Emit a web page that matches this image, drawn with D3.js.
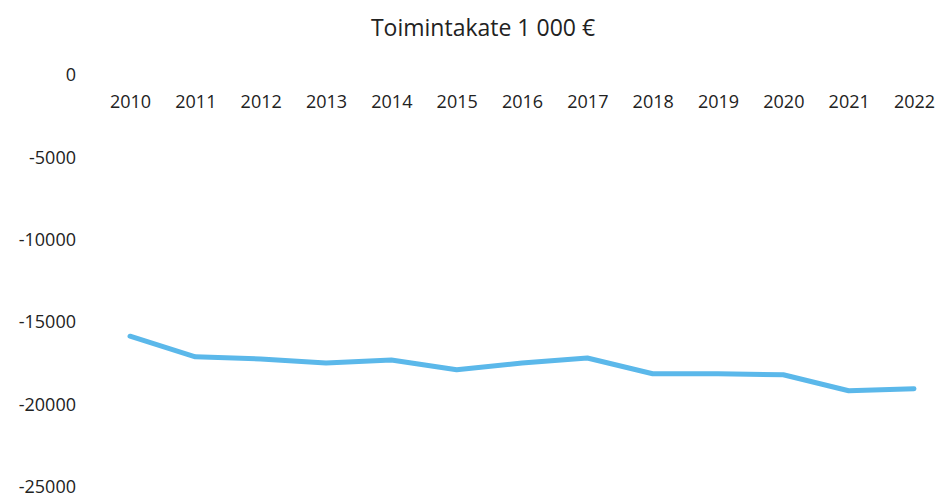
<!DOCTYPE html>
<html>
<head>
<meta charset="utf-8">
<script src="https://cdn.jsdelivr.net/npm/d3@7"></script>
<style>
  body { margin: 0; background: #fff; }
  text { font-family: "Open Sans", "Noto Sans", sans-serif; fill: #222; }
  .axis text { font-size: 18px; }
  .axis path, .axis line { display: none; }
</style>
</head>
<body>
<div id="chart"></div>
<script>
var years = ["2010", "2011", "2012", "2013", "2014", "2015", "2016", "2017", "2018", "2019", "2020", "2021", "2022"]
var toimintakate = [-15850, -17100, -17230, -17470, -17290, -17890, -17470, -17170, -18130, -18130, -18190, -19160, -19040]
var yTicks = [0, -5000, -10000, -15000, -20000, -25000]

var width = 939, height = 498
var margin = {left: 130, right: 25, top: 75, bottom: 11}

var svg = d3.select("#chart").append("svg")
    .attr("width", width)
    .attr("height", height)

var xScale = d3.scalePoint()
    .domain(years)
    .range([margin.left, width - margin.right])

var yScale = d3.scaleLinear()
    .domain([0, -25000])
    .range([margin.top, height - margin.bottom])

svg.append("text")
    .attr("x", 483)
    .attr("y", 36)
    .attr("text-anchor", "middle")
    .style("font-size", "23px")
    .text("Toimintakate 1 000 €")

// y labels, no axis line; plain hyphen like the original
svg.append("g")
    .attr("class", "axis")
    .attr("transform", "translate(76,0)")
    .call(d3.axisLeft(yScale).tickValues(yTicks).tickSize(0).tickPadding(0)
        .tickFormat(function(d) { return String(d) }))

// x labels sit just under the zero line
svg.append("g")
    .attr("class", "axis")
    .attr("transform", "translate(0," + yScale(0) + ")")
    .call(d3.axisBottom(xScale).tickSize(0).tickPadding(20))

var line = d3.line()
    .x(function(d, i) { return xScale(years[i]) })
    .y(function(d) { return yScale(d) })

svg.append("path")
    .datum(toimintakate)
    .attr("fill", "none")
    .attr("stroke", "#5bb8ea")
    .attr("stroke-width", 5)
    .attr("stroke-linejoin", "round")
    .attr("stroke-linecap", "round")
    .attr("d", line)
</script>
</body>
</html>
